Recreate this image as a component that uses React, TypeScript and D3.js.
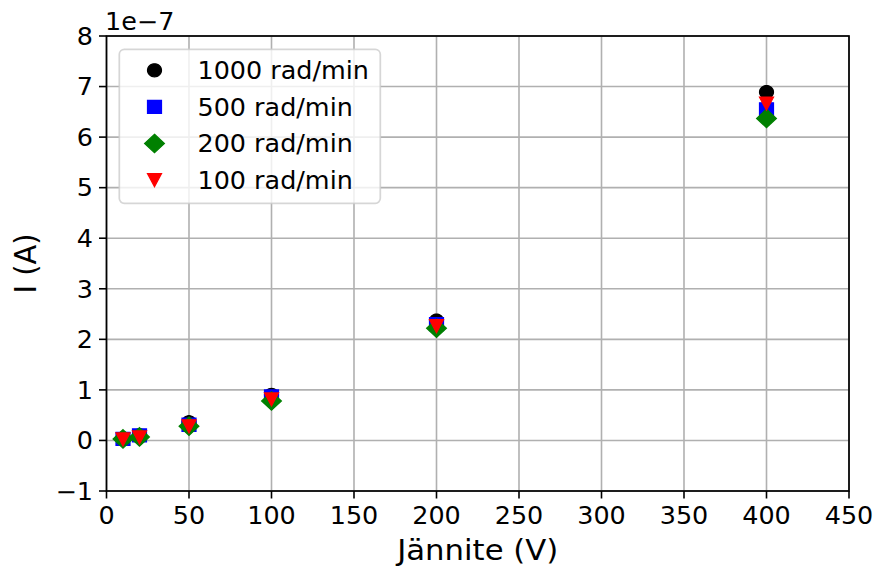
import React from "react";
import * as d3 from "d3";

// Measured current vs. applied voltage for four rotation speeds
const voltages = [10, 20, 50, 100, 200, 400];
const current1000 = [0.04e-7, 0.1e-7, 0.36e-7, 0.9e-7, 2.37e-7, 6.89e-7];
const current500 = [0.03e-7, 0.1e-7, 0.31e-7, 0.87e-7, 2.3e-7, 6.55e-7];
const current200 = [0.03e-7, 0.07e-7, 0.28e-7, 0.78e-7, 2.22e-7, 6.37e-7];
const current100 = [0.02e-7, 0.06e-7, 0.28e-7, 0.81e-7, 2.26e-7, 6.66e-7];

const seriesLabels = ["1000 rad/min", "500 rad/min", "200 rad/min", "100 rad/min"];
const seriesColors = ["#000000", "#0000ff", "#008000", "#ff0000"];
const seriesShapes = ["circle", "square", "diamond", "triangleDown"];
const seriesValues = [current1000, current500, current200, current100];

const xTicks = [0, 50, 100, 150, 200, 250, 300, 350, 400, 450];
const yTicks = [-1, 0, 1, 2, 3, 4, 5, 6, 7, 8];
const yExponent = 1e-7;

const W = 875;
const H = 570;
const left = 106.5;
const right = 849;
const top = 36;
const bottom = 491;
const SX = 1.06; // horizontal glyph stretch
const FONT = "DejaVu Sans, sans-serif";
const TICK_FS = 24;
const LABEL_FS = 29;

const x = d3.scaleLinear().domain([0, 450]).range([left, right]);
const y = d3.scaleLinear().domain([-1e-7, 8e-7]).range([bottom, top]);

function markerPath(shape: string, s: number): string {
  const h = s / 2;
  const hx = h * 1.07;
  if (shape === "circle") {
    const p = d3.path();
    const n = 32;
    for (let i = 0; i <= n; i++) {
      const a = (i / n) * Math.PI * 2;
      const px = Math.cos(a) * hx;
      const py = Math.sin(a) * h;
      if (i === 0) p.moveTo(px, py);
      else p.lineTo(px, py);
    }
    p.closePath();
    return p.toString();
  }
  if (shape === "square") {
    return `M${-hx},${-h}L${hx},${-h}L${hx},${h}L${-hx},${h}Z`;
  }
  if (shape === "diamond") {
    const d = h * Math.SQRT2;
    const dx = d * 1.07;
    return `M0,${-d}L${dx},0L0,${d}L${-dx},0Z`;
  }
  // downward-pointing triangle
  return `M${-hx},${-h}L${hx},${-h}L0,${h}Z`;
}

const MS = 13;

function Marker({ shape, color, cx, cy }: { shape: string; color: string; cx: number; cy: number }) {
  return (
    <path
      d={markerPath(shape, MS)}
      transform={`translate(${cx},${cy})`}
      fill={color}
      stroke={color}
      strokeWidth={1.3}
      strokeLinejoin="miter"
    />
  );
}

function SText({
  x0,
  y0,
  size,
  anchor = "start",
  rotate = 0,
  children,
}: {
  x0: number;
  y0: number;
  size: number;
  anchor?: "start" | "middle" | "end";
  rotate?: number;
  children: React.ReactNode;
}) {
  return (
    <g transform={`translate(${x0},${y0}) scale(${SX},1)${rotate ? ` rotate(${rotate})` : ""}`}>
      <text x={0} y={0} fontFamily={FONT} fontSize={size} textAnchor={anchor} fill="#000">
        {children}
      </text>
    </g>
  );
}

const fmtY = (v: number) => (v < 0 ? `\u2212${Math.abs(v)}` : `${v}`);

export default function App() {
  const legendX = 119.3;
  const legendY = 49.3;
  const legendW = 261;
  const legendH = 154;
  const rowPitch = 36.6;
  const firstRow = 70.3;
  const half = (TICK_FS * 0.729) / 2;

  return (
    <svg width={W} height={H} style={{ display: "block", position: "absolute", left: 0, top: 0 }}>
      <rect x={0} y={0} width={W} height={H} fill="#fff" />

      {/* grid */}
      <g stroke="#b0b0b0" strokeWidth={1.6}>
        {xTicks.map((t) => (
          <line key={`gx${t}`} x1={x(t)} x2={x(t)} y1={top} y2={bottom} />
        ))}
        {yTicks.map((t) => (
          <line key={`gy${t}`} x1={left} x2={right} y1={y(t * yExponent)} y2={y(t * yExponent)} />
        ))}
      </g>

      {/* data markers */}
      {seriesValues.map((vals, si) => (
        <g key={`s${si}`}>
          {vals.map((v, i) => (
            <Marker
              key={i}
              shape={seriesShapes[si]}
              color={seriesColors[si]}
              cx={x(voltages[i])}
              cy={y(v)}
            />
          ))}
        </g>
      ))}

      {/* spines */}
      <rect x={left} y={top} width={right - left} height={bottom - top} fill="none" stroke="#000" strokeWidth={1.7} />

      {/* x ticks */}
      {xTicks.map((t) => (
        <g key={`xt${t}`}>
          <line x1={x(t)} x2={x(t)} y1={bottom} y2={bottom + 7.5} stroke="#000" strokeWidth={1.6} />
          <SText x0={x(t)} y0={524} size={TICK_FS} anchor="middle">
            {t}
          </SText>
        </g>
      ))}

      {/* y ticks */}
      {yTicks.map((t) => (
        <g key={`yt${t}`}>
          <line x1={left - 7.5} x2={left} y1={y(t * yExponent)} y2={y(t * yExponent)} stroke="#000" strokeWidth={1.6} />
          <SText x0={93} y0={y(t * yExponent) + half} size={TICK_FS} anchor="end">
            {fmtY(t)}
          </SText>
        </g>
      ))}

      {/* offset text */}
      <SText x0={105} y0={30} size={TICK_FS}>
        1e{"\u2212"}7
      </SText>

      {/* axis labels */}
      <SText x0={(left + right) / 2} y0={560} size={LABEL_FS} anchor="middle">
        Jännite (V)
      </SText>
      <SText x0={36} y0={(top + bottom) / 2} size={LABEL_FS} anchor="middle" rotate={-90}>
        I (A)
      </SText>

      {/* legend */}
      <rect
        x={legendX}
        y={legendY}
        width={legendW}
        height={legendH}
        rx={5}
        fill="#fff"
        fillOpacity={0.8}
        stroke="#cccccc"
        strokeOpacity={0.8}
        strokeWidth={1.7}
      />
      {seriesLabels.map((lab, i) => {
        const cy = firstRow + i * rowPitch;
        return (
          <g key={lab}>
            <Marker shape={seriesShapes[i]} color={seriesColors[i]} cx={154.5} cy={cy} />
            <SText x0={197.5} y0={cy + half} size={TICK_FS}>
              {lab}
            </SText>
          </g>
        );
      })}
    </svg>
  );
}
